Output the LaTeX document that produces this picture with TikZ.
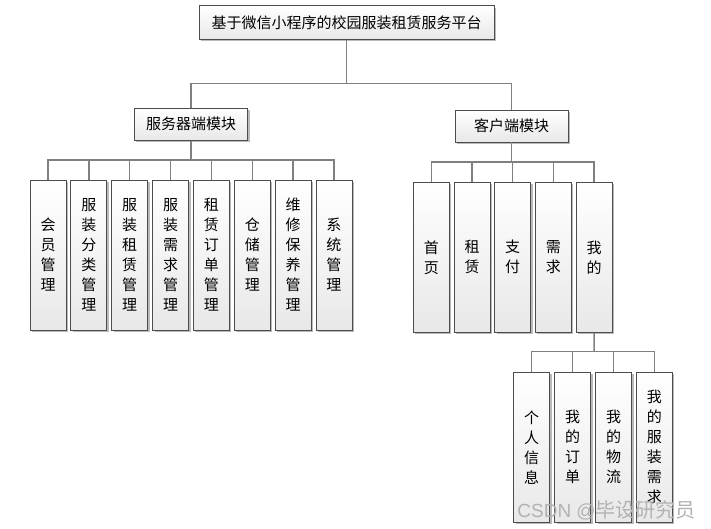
\documentclass[tikz,border=0pt]{standalone}
\usepackage{fontspec}
\newfontfamily\cjk{Noto Sans CJK SC}
\newfontfamily\lat{Liberation Sans}
\usetikzlibrary{shadows}
\begin{document}
\begin{tikzpicture}[x=1pt,y=1pt,
  box/.style={draw=black!70, line width=0.9pt, top color=white, bottom color=black!9,
    drop shadow={shadow xshift=2pt, shadow yshift=-2pt, fill=black!45, opacity=0.6},
    inner sep=0pt, font={\cjk\fontsize{15}{20}\selectfont}, align=center},
  hbox/.style={box, minimum width=113.4pt, minimum height=32pt},
  vbox/.style={box, minimum width=36pt, minimum height=150pt, text width=16pt},
  conn/.style={draw=black!50, line width=1.4pt}]
\useasboundingbox (0,0) rectangle (711,-529);
% nodes
\node[box, minimum width=294.7pt, minimum height=33.3pt] (top) at (346.6,-22.6) {基于微信小程序的校园服装租赁服务平台};
\node[hbox] (srv) at (191,-124.2) {服务器端模块};
\node[hbox] (cli) at (511.7,-126) {客户端模块};
% server children
\foreach \i/\t in {0/{会\\员\\管\\理},1/{服\\装\\分\\类\\管\\理},2/{服\\装\\租\\赁\\管\\理},3/{服\\装\\需\\求\\管\\理},4/{租\\赁\\订\\单\\管\\理},5/{仓\\储\\管\\理},6/{维\\修\\保\\养\\管\\理},7/{系\\统\\管\\理}}{
  \node[vbox] (s\i) at ({48+40.85*\i},-255) {\t};
}
% client children
\foreach \i/\t in {0/{首\\页},1/{租\\赁},2/{支\\付},3/{需\\求},4/{我\\的}}{
  \node[vbox] (c\i) at ({431.3+40.7*\i},-257.3) {\t};
}
% sub children
\foreach \i/\t in {0/{个\\人\\信\\息},1/{我\\的\\订\\单},2/{我\\的\\物\\流},3/{我\\的\\服\\装\\需\\求}}{
  \node[vbox] (m\i) at ({531.7+40.9*\i},-447.3) {\t};
}
% bus coordinates
\coordinate (b0) at (346.6,-83.3);
\coordinate (b1) at (191,-160);
\coordinate (b2) at (511.7,-162);
\coordinate (b3) at (594.1,-351.7);
% connectors
\draw[conn] (top.south) -- (b0);
\draw[conn] (b0) -| (srv.north);
\draw[conn] (b0) -| (cli.north);
\draw[conn] (srv.south) -- (b1);
\foreach \i in {0,...,7}{\draw[conn] (b1) -| (s\i.north);}
\draw[conn] (cli.south) -- (b2);
\foreach \i in {0,...,4}{\draw[conn] (b2) -| (c\i.north);}
\draw[conn] (c4.south) -- (b3);
\foreach \i in {0,...,3}{\draw[conn] (b3) -| (m\i.north);}
% watermark
\node[anchor=east, text=black!30, inner sep=0pt] (wm) at (696,-510) {\lat\fontsize{19}{20}\selectfont CSDN @\cjk\fontsize{20}{20}\selectfont 毕设研究员};
\end{tikzpicture}
\end{document}
